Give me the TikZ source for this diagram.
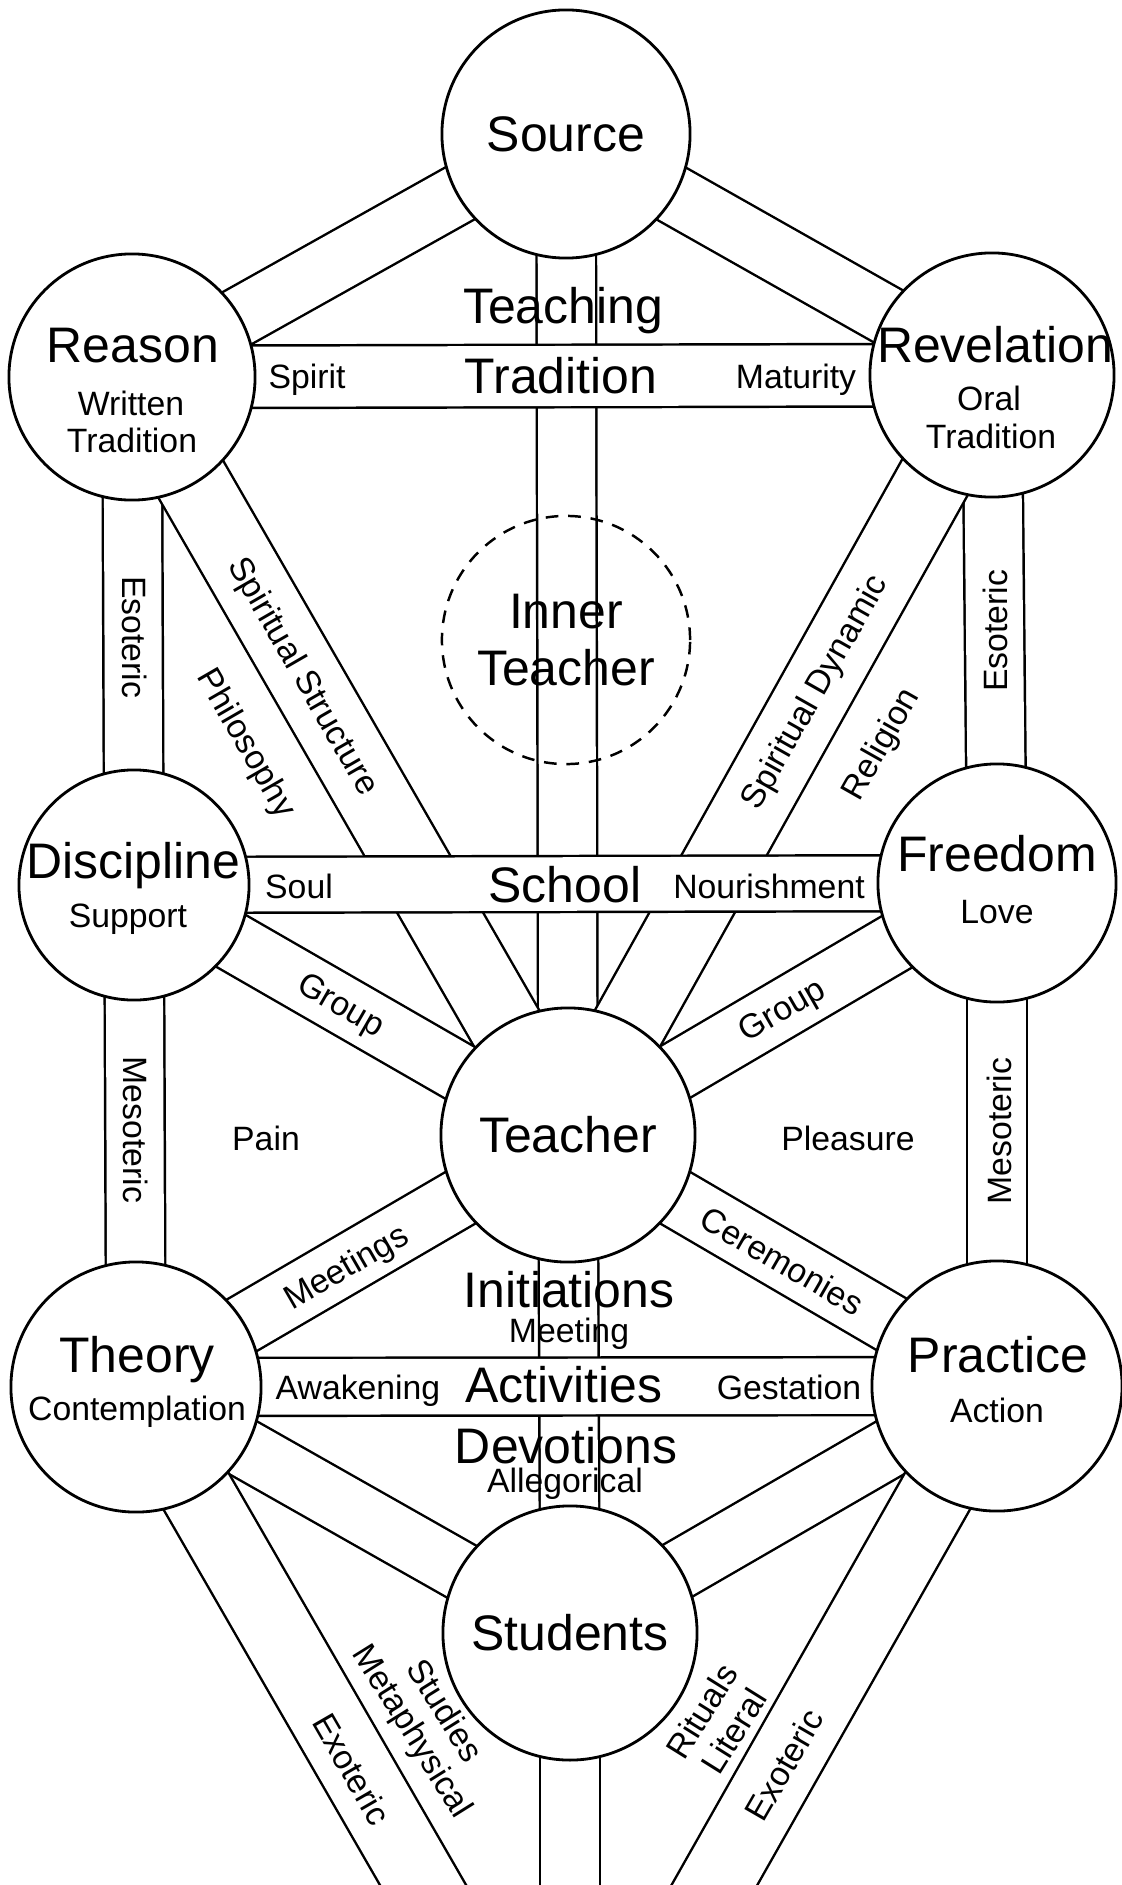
\documentclass[tikz,border=0pt]{standalone}
\usepackage{fontspec}
\setmainfont{Liberation Sans}
\usetikzlibrary{backgrounds}

\begin{document}
\begin{tikzpicture}[x=0.01cm, y=-0.01cm,
  sefira/.style={circle, draw, line width=0.8pt, fill=white, inner sep=0pt, font=\fontsize{14.2}{16}\selectfont},
  innercircle/.style={circle, draw, line width=0.7pt, dash pattern=on 3.6pt off 2.8pt, inner sep=0pt, align=center, font=\fontsize{14.2}{16}\selectfont},
  band/.style={line width=0.7pt, double=white, double distance=0.57cm},
  wideband/.style={band, double distance=0.72cm},
  bigtext/.style={font=\fontsize{14.2}{16}\selectfont, anchor=base, inner sep=0pt},
  smalltext/.style={font=\fontsize{9.6}{11}\selectfont, anchor=base, inner sep=0pt},
  slanttext/.style={font=\fontsize{9.6}{10.8}\selectfont, align=center, inner sep=0pt}
]
\useasboundingbox (0,0) rectangle (1122,1885);
\clip (0,0) rectangle (1122,1885);

\node[sefira, minimum size=2.48cm] (source) at (566,134) {Source};
\node[sefira, minimum size=2.46cm] (reason) at (132,377) {};
\node[sefira, minimum size=2.44cm] (revelation) at (992,375) {};
\node[innercircle, minimum size=2.48cm] (inner) at (566,640) {Inner\\Teacher};
\node[sefira, minimum size=2.30cm] (discipline) at (134,885) {};
\node[sefira, minimum size=2.38cm] (freedom) at (997,883) {};
\node[sefira, minimum size=2.54cm] (teacher) at (568,1135) {Teacher};
\node[sefira, minimum size=2.50cm] (theory) at (136,1387) {};
\node[sefira, minimum size=2.50cm] (practice) at (997,1386) {};
\node[sefira, minimum size=2.54cm] (students) at (570,1633) {Students};
\coordinate (ground) at (570,2140);

\begin{scope}[on background layer]
\draw[band] (source.center) -- (teacher.center);
\draw[band] (teacher.center) -- (students.center);
\draw[band] (students.center) -- (ground);
\draw[band] (source.center) -- (reason.center);
\draw[band] (source.center) -- (revelation.center);
\draw[band] (reason.center) -- (discipline.center);
\draw[band] (discipline.center) -- (theory.center);
\draw[band] (revelation.center) -- (freedom.center);
\draw[band] (freedom.center) -- (practice.center);
\draw[wideband] (reason.center) -- (teacher.center);
\draw[wideband] (revelation.center) -- (teacher.center);
\draw[band] (discipline.center) -- (teacher.center);
\draw[band] (freedom.center) -- (teacher.center);
\draw[band] (theory.center) -- (teacher.center);
\draw[band] (practice.center) -- (teacher.center);
\draw[band] (theory.center) -- (students.center);
\draw[band] (practice.center) -- (students.center);
\draw[wideband] (theory.center) -- (ground);
\draw[wideband] (practice.center) -- (ground);
\draw[band, double distance=0.6cm] (reason.center) -- (revelation.center);
\draw[band, double distance=0.535cm] (discipline.center) -- (freedom.center);
\draw[band, double distance=0.555cm] (theory.center) -- (practice.center);
\end{scope}

\node[bigtext] (teachingLbl) at (563,323) {Teaching};
\node[bigtext] (traditionLbl) at (561,393) {Tradition};
\node[smalltext] (spiritLbl) at (307,388) {Spirit};
\node[smalltext] (maturityLbl) at (796,388) {Maturity};
\node[bigtext] (reasonName) at (133,362) {Reason};
\node[smalltext] (reasonSub1) at (131,415) {Written};
\node[smalltext] (reasonSub2) at (132,452) {Tradition};
\node[bigtext] (revelationName) at (995,362) {Revelation};
\node[smalltext] (revelationSub1) at (989,410) {Oral};
\node[smalltext] (revelationSub2) at (991,448) {Tradition};

\node[slanttext, rotate=-90] (esotericL) at (135,637) {Esoteric};
\node[slanttext, rotate=90] (esotericR) at (995,631) {Esoteric};
\node[slanttext, rotate=-60] (structureLbl) at (302,677) {Spiritual Structure};
\node[slanttext, rotate=-60] (philosophyLbl) at (245,744) {Philosophy};
\node[slanttext, rotate=60.5] (dynamicLbl) at (816,693) {Spiritual Dynamic};
\node[slanttext, rotate=60.5] (religionLbl) at (882,745) {Religion};

\node[bigtext] (schoolLbl) at (565,902) {School};
\node[smalltext] (soulLbl) at (299,898) {Soul};
\node[smalltext] (nourishLbl) at (769,898) {Nourishment};
\node[bigtext] (disciplineName) at (133,878) {Discipline};
\node[smalltext] (disciplineSub) at (128,927) {Support};
\node[bigtext] (freedomName) at (997,871) {Freedom};
\node[smalltext] (freedomSub) at (997,923) {Love};

\node[slanttext, rotate=-30] (groupL) at (340,1007) {Group};
\node[slanttext, rotate=30] (groupR) at (783,1012) {Group};
\node[slanttext, rotate=-90] (mesotericL) at (136,1130) {Mesoteric};
\node[slanttext, rotate=90] (mesotericR) at (999,1131) {Mesoteric};
\node[smalltext] (painLbl) at (266,1150) {Pain};
\node[smalltext] (pleasureLbl) at (848,1150) {Pleasure};
\node[slanttext, rotate=30] (meetingsLbl) at (347,1269) {Meetings};
\node[slanttext, rotate=-30] (ceremoniesLbl) at (782,1261) {Ceremonies};

\node[bigtext] (initiationsLbl) at (569,1307) {Initiations};
\node[smalltext] (meetingLbl) at (569,1342) {Meeting};
\node[bigtext] (activitiesLbl) at (564,1402) {Activities};
\node[smalltext] (awakeningLbl) at (358,1399) {Awakening};
\node[smalltext] (gestationLbl) at (789,1399) {Gestation};
\node[bigtext] (theoryName) at (137,1372) {Theory};
\node[smalltext] (theorySub) at (137,1420) {Contemplation};
\node[bigtext] (practiceName) at (998,1372) {Practice};
\node[smalltext] (practiceSub) at (997,1422) {Action};
\node[bigtext] (devotionsLbl) at (566,1463) {Devotions};
\node[smalltext] (allegoricalLbl) at (565,1492) {Allegorical};

\node[slanttext, rotate=-60] (exotericL) at (352,1769) {Exoteric};
\node[slanttext, rotate=-58] (studiesLbl) at (427,1722) {Studies\\Metaphysical};
\node[slanttext, rotate=60] (exotericR) at (784,1765) {Exoteric};
\node[slanttext, rotate=58] (ritualsLbl) at (718,1721) {Rituals\\Literal};
\end{tikzpicture}
\end{document}
